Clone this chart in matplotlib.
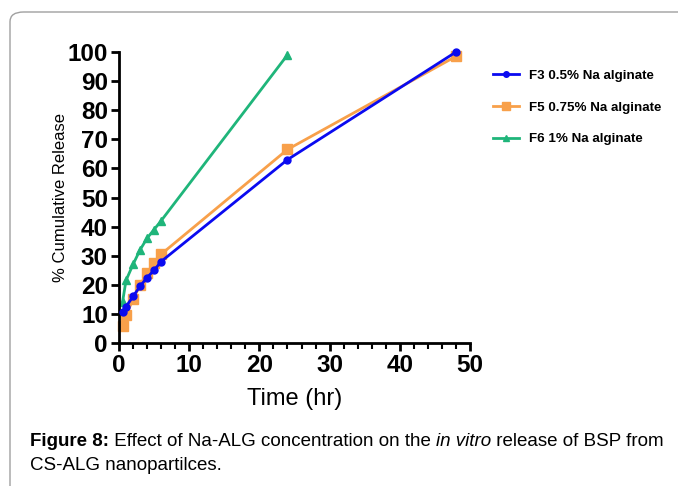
import matplotlib
matplotlib.use("Agg")
import matplotlib.pyplot as plt
from matplotlib.patches import FancyBboxPatch
from matplotlib.ticker import MultipleLocator

plt.rcParams["font.family"] = ["Liberation Sans", "DejaVu Sans"]

# ----------------------------
# data
# ----------------------------
time_short = [0.5, 1, 2, 3, 4, 5, 6, 24, 48]
time_f6 = [0.5, 1, 2, 3, 4, 5, 6, 24]

f3_release = [10.5, 12.5, 16, 19.5, 22.5, 25, 28, 63, 100]
f5_release = [6, 9.5, 15, 20, 24, 27.5, 30.5, 66.5, 98.5]
f6_release = [14, 21.5, 27, 32, 36, 39, 42, 99]

labels = ["F3 0.5% Na alginate", "F5 0.75% Na alginate", "F6 1% Na alginate"]
colors = ["#0a0af0", "#f8a04a", "#1fb57a"]

# ----------------------------
# figure
# ----------------------------
fig = plt.figure(figsize=(6.78, 4.86), dpi=100)

# rounded frame around the figure panel
frame = FancyBboxPatch((10 / 678, -0.05), 1.1, 1.05 - 12 / 486,
                       boxstyle="round,pad=0,rounding_size=0.02",
                       transform=fig.transFigure, fill=False,
                       edgecolor="#a0a0a0", linewidth=1.0)
fig.patches.append(frame)

ax = fig.add_axes([119 / 678, 1 - 343 / 486, (470 - 119) / 678, (343 - 52) / 486])

ax.plot(time_short, f3_release, color=colors[0], marker="o", markersize=5,
        linewidth=2, label=labels[0], clip_on=False, zorder=3)
ax.plot(time_short, f5_release, color=colors[1], marker="s", markersize=7,
        linewidth=2, label=labels[1], clip_on=False, zorder=2)
ax.plot(time_f6, f6_release, color=colors[2], marker="^", markersize=6,
        linewidth=2, label=labels[2], clip_on=False, zorder=2)

ax.set_xlim(0, 50)
ax.set_ylim(0, 100)
ax.xaxis.set_major_locator(MultipleLocator(10))
ax.xaxis.set_minor_locator(MultipleLocator(2))
ax.yaxis.set_major_locator(MultipleLocator(10))

for side in ["top", "right"]:
    ax.spines[side].set_visible(False)
for side in ["left", "bottom"]:
    ax.spines[side].set_linewidth(2)

ax.tick_params(axis="both", which="major", length=6, width=2, labelsize=17.5, pad=2)
ax.tick_params(axis="x", which="minor", length=4, width=1.5)
for lab in ax.get_xticklabels() + ax.get_yticklabels():
    lab.set_fontweight("bold")

ax.set_xlabel("Time (hr)", fontsize=17, labelpad=8)
ax.set_ylabel("% Cumulative Release", fontsize=12, labelpad=0)

leg = ax.legend(loc="upper left", bbox_to_anchor=(1.03, 0.98), frameon=False,
                prop={"weight": "bold", "size": 9.6}, labelspacing=1.45,
                handlelength=2.0, handletextpad=0.7, markerscale=0.8)

# ----------------------------
# caption with mixed styles
# ----------------------------
fig.canvas.draw()
renderer = fig.canvas.get_renderer()


def caption_line(pieces, x, y, size=13.5):
    for text, style in pieces:
        kw = {}
        if style == "bold":
            kw["fontweight"] = "bold"
        elif style == "italic":
            kw["fontstyle"] = "italic"
        t = fig.text(x, y, text, fontsize=size, va="baseline", ha="left",
                     transform=fig.transFigure, **kw)
        bb = t.get_window_extent(renderer=renderer)
        x += bb.width / fig.bbox.width


caption_line([("Figure 8:", "bold"),
              (" Effect of Na-ALG concentration on the ", "normal"),
              ("in vitro", "italic"),
              (" release of BSP from", "normal")], 30 / 678, 1 - 446 / 486)
caption_line([("CS-ALG nanopartilces.", "normal")], 30 / 678, 1 - 470 / 486)

fig.savefig("out.png", dpi=100)
